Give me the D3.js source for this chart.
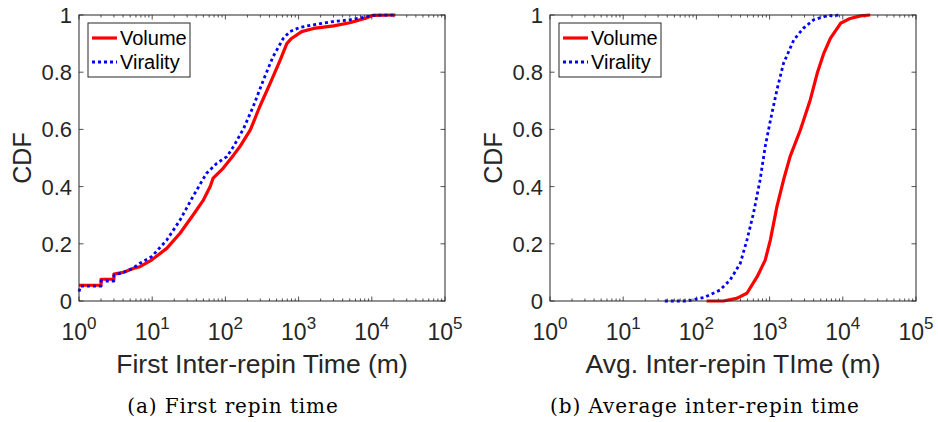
<!DOCTYPE html>
<html>
<head>
<meta charset="utf-8">
<script src="https://cdn.jsdelivr.net/npm/d3@7"></script>
<style>
  html, body { margin: 0; padding: 0; background: #fff; }
  svg { display: block; }
</style>
</head>
<body>
<svg id="chart" width="938" height="422"></svg>
<script>
// ---------- data ----------
const yTicks = [0, 0.2, 0.4, 0.6, 0.8, 1];
const yTickLabels = ["0", "0.2", "0.4", "0.6", "0.8", "1"];
const xTicks = [1, 10, 100, 1000, 10000, 100000];
const xTickExps = ["0", "1", "2", "3", "4", "5"];
const seriesNames = ["Volume", "Virality"];

// (a) First repin time: [minutes, CDF]
const firstVolume = [[1,0.055],[2,0.055],[2,0.076],[3,0.076],[3,0.094],[4,0.1],[5.5,0.114],[6.8,0.12],[9.8,0.143],[15.8,0.184],[24,0.237],[36,0.3],[50,0.353],[62,0.4],[68,0.43],[93,0.464],[129,0.51],[158,0.54],[219,0.598],[295,0.68],[407,0.76],[562,0.843],[690,0.9],[800,0.918],[1100,0.942],[1600,0.953],[3000,0.962],[5000,0.973],[8500,0.99],[10500,0.999],[21000,1]];
const firstVirality = [[1,0.033],[1.05,0.052],[2,0.052],[2,0.07],[3,0.07],[3,0.09],[4,0.1],[5.5,0.115],[6.8,0.132],[9.8,0.155],[15.8,0.213],[24,0.283],[36,0.365],[55,0.446],[76,0.481],[105,0.505],[129,0.54],[178,0.604],[240,0.68],[331,0.773],[447,0.854],[617,0.918],[760,0.942],[1050,0.957],[1780,0.968],[2950,0.977],[5000,0.983],[8500,0.994],[10500,0.999],[21000,1]];

// (b) Average inter-repin time: [minutes, CDF]
const avgVolume = [[138,0],[234,0],[355,0.009],[490,0.027],[676,0.085],[871,0.143],[1023,0.213],[1259,0.33],[1549,0.423],[1905,0.505],[2630,0.598],[3590,0.703],[4470,0.796],[5500,0.866],[6760,0.918],[9330,0.971],[12600,0.988],[17400,0.997],[23700,1]];
const avgVirality = [[37,0],[74,0],[126,0.012],[209,0.038],[288,0.073],[398,0.132],[490,0.213],[603,0.307],[741,0.423],[871,0.54],[1023,0.63],[1259,0.738],[1549,0.831],[2140,0.913],[2880,0.953],[3980,0.983],[6030,0.997],[9330,1]];

const panels = [
  { left: 79, xTitle: "First Inter-repin Time (m)", caption: "(a) First repin time", capX: 233, series: [firstVolume, firstVirality] },
  { left: 550, xTitle: "Avg. Inter-repin TIme (m)", caption: "(b) Average inter-repin time", capX: 705, series: [avgVolume, avgVirality] }
];

// ---------- drawing ----------
const svg = d3.select("#chart");
const W = 366, plotTop = 15, H = 286;
const axisColor = "#262626";
const colors = ["#ff0000", "#0000ff"];
const sans = "'Liberation Sans', Arial, Helvetica, sans-serif";
const serif = "'DejaVu Serif', serif";

panels.forEach(p => {
  const g = svg.append("g").attr("transform", `translate(${p.left},${plotTop})`);
  const x = d3.scaleLog().domain([1, 100000]).range([0, W]);
  const y = d3.scaleLinear().domain([0, 1]).range([H, 0]);

  // minor ticks
  const minor = [];
  for (let e = 0; e < 5; e++) for (let k = 2; k <= 9; k++) minor.push(k * Math.pow(10, e));

  const ticks = g.append("g").attr("stroke", axisColor).attr("stroke-width", 0.8);
  minor.forEach(v => {
    ticks.append("line").attr("x1", x(v)).attr("x2", x(v)).attr("y1", H).attr("y2", H - 2.5);
    ticks.append("line").attr("x1", x(v)).attr("x2", x(v)).attr("y1", 0).attr("y2", 2.5);
  });
  xTicks.forEach(v => {
    ticks.append("line").attr("x1", x(v)).attr("x2", x(v)).attr("y1", H).attr("y2", H - 4.5);
    ticks.append("line").attr("x1", x(v)).attr("x2", x(v)).attr("y1", 0).attr("y2", 4.5);
  });
  yTicks.forEach(v => {
    ticks.append("line").attr("x1", 0).attr("x2", 4.5).attr("y1", y(v)).attr("y2", y(v));
    ticks.append("line").attr("x1", W).attr("x2", W - 4.5).attr("y1", y(v)).attr("y2", y(v));
  });

  // lines
  const line = d3.line().x(d => x(d[0])).y(d => y(d[1]));
  p.series.forEach((s, i) => {
    g.append("path").datum(s)
      .attr("fill", "none")
      .attr("stroke", colors[i])
      .attr("stroke-width", i === 0 ? 3.2 : 2.8)
      .attr("stroke-dasharray", i === 0 ? null : "3 3")
      .attr("stroke-linejoin", "round")
      .attr("d", line);
  });

  // box
  g.append("rect").attr("x", 0).attr("y", 0).attr("width", W).attr("height", H)
    .attr("fill", "none").attr("stroke", axisColor).attr("stroke-width", 1);

  // y tick labels
  yTicks.forEach((v, i) => {
    g.append("text").attr("x", -7).attr("y", y(v)).attr("dy", "0.36em")
      .attr("text-anchor", "end").attr("fill", axisColor)
      .style("font-family", sans).style("font-size", "22px")
      .text(yTickLabels[i]);
  });
  // x tick labels (10^n)
  xTicks.forEach((v, i) => {
    const t = g.append("text").attr("x", x(v)).attr("y", H + 39)
      .attr("text-anchor", "middle").attr("fill", axisColor)
      .style("font-family", sans).style("font-size", "23px");
    t.append("tspan").text("10");
    t.append("tspan").attr("dy", -11).style("font-size", "17px").text(xTickExps[i]);
  });

  // axis titles
  g.append("text").attr("x", W / 2).attr("y", H + 72)
    .attr("text-anchor", "middle").attr("fill", axisColor)
    .style("font-family", sans).style("font-size", "26.5px")
    .text(p.xTitle);
  g.append("text").attr("transform", `translate(-48,${H / 2}) rotate(-90)`)
    .attr("text-anchor", "middle").attr("fill", axisColor)
    .style("font-family", sans).style("font-size", "25px")
    .text("CDF");

  // legend
  const lg = g.append("g").attr("transform", "translate(9,8)");
  lg.append("rect").attr("x", 0).attr("y", 0).attr("width", 102).attr("height", 54)
    .attr("fill", "#fff").attr("stroke", axisColor).attr("stroke-width", 1);
  seriesNames.forEach((n, i) => {
    const yy = 15 + i * 24;
    lg.append("line").attr("x1", 4).attr("x2", 29).attr("y1", yy).attr("y2", yy)
      .attr("stroke", colors[i]).attr("stroke-width", i === 0 ? 3.2 : 2.8)
      .attr("stroke-dasharray", i === 0 ? null : "3 3");
    lg.append("text").attr("x", 32).attr("y", yy).attr("dy", "0.36em")
      .attr("fill", "#000")
      .style("font-family", sans).style("font-size", "20px")
      .text(n);
  });

  // caption
  svg.append("text").attr("x", p.capX).attr("y", 413)
    .attr("text-anchor", "middle").attr("fill", "#000")
    .style("font-family", serif).style("font-size", "20px").style("letter-spacing", "0.9px")
    .text(p.caption);
});
</script>
</body>
</html>
